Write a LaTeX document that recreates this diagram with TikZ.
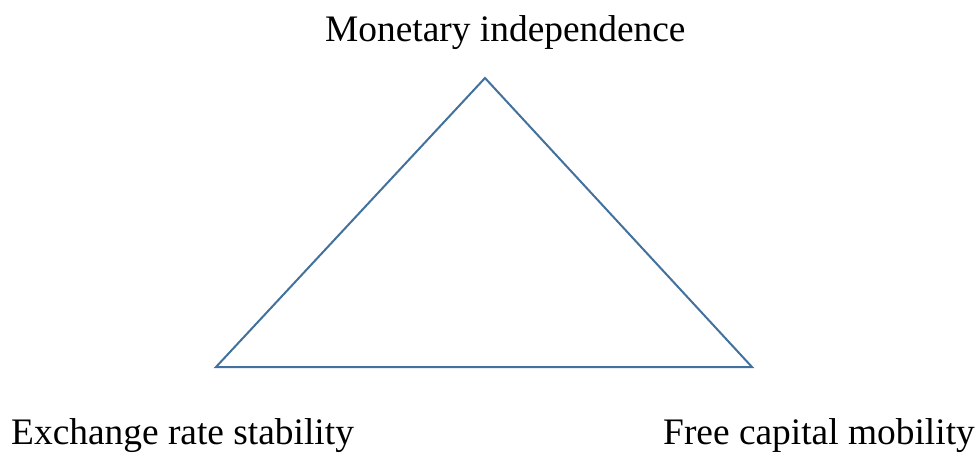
\documentclass[tikz,border=0pt]{standalone}
\usepackage{fontspec}
\setmainfont{Liberation Serif}
\definecolor{triblue}{RGB}{65,113,156}
\begin{document}
\begin{tikzpicture}[x=1pt,y=-1pt,
  lbl/.style={anchor=base west,inner sep=0pt,font=\fontsize{37.4}{40}\selectfont},
  edge/.style={draw=triblue,line width=2pt,line join=miter}]
\useasboundingbox (0,0) rectangle (975,453);
\coordinate (top) at (485,78);
\coordinate (left) at (216,367);
\coordinate (right) at (752,367);
\draw[edge] (top) -- (right) -- (left) -- cycle;
\node[lbl] (mi) at (325,41) {Monetary independence};
\node[lbl] (ers) at (11,444) {Exchange rate stability};
\node[lbl] (fcm) at (663,444) {Free capital mobility};
\end{tikzpicture}
\end{document}
